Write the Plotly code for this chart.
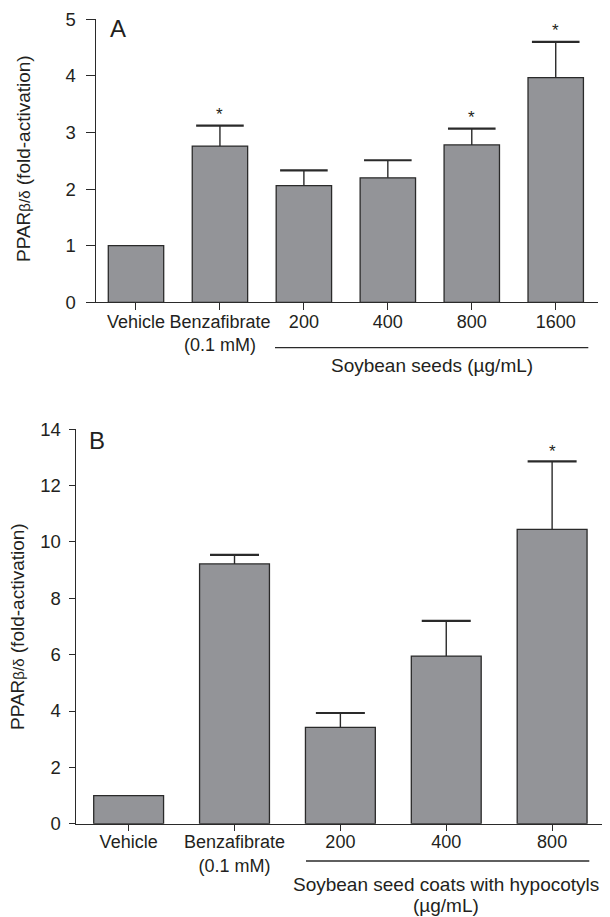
import plotly.graph_objects as go

W, H = 610, 917
OFF = 8  # the page body margin offsets the figure by 8 px

# ---------------- data ----------------
a_categories = ["Vehicle", "Benzafibrate<br>(0.1 mM)", "200", "400", "800", "1600"]
a_values = [1.00, 2.76, 2.06, 2.20, 2.78, 3.97]
a_err_top = [1.00, 3.12, 2.33, 2.51, 3.07, 4.60]
a_signif = [False, True, False, False, True, True]
a_group_label = "Soybean seeds (µg/mL)"

b_categories = ["Vehicle", "Benzafibrate<br>(0.1 mM)", "200", "400", "800"]
b_values = [1.00, 9.22, 3.42, 5.95, 10.45]
b_err_top = [1.00, 9.54, 3.93, 7.20, 12.86]
b_signif = [False, False, False, False, True]
b_group_label = ["Soybean seed coats with hypocotyls", "(µg/mL)"]

y_title = "PPAR<span style='font-size:15px'>β/δ</span> (fold-activation)"

# ---------------- style ----------------
FONT = "Liberation Sans, Arial, Helvetica, sans-serif"
TXT = "#231f20"
AX = "#2a2a2a"
BAR = "#939498"
FS = 19
FX = 18

FW, FH = W - OFF, H - OFF


def px_x(p):
    return (p - OFF) / FW


def px_y(p):
    return 1 - (p - OFF) / FH


fig = go.Figure()


def add_panel(cats, vals, tops, xa, ya, capsize):
    fig.add_trace(go.Bar(
        x=cats, y=vals, xaxis=xa, yaxis=ya, width=0.66,
        marker=dict(color=BAR, line=dict(color=AX, width=1.3)),
        showlegend=False, hoverinfo="skip",
    ))
    # error stems (upper half only) and caps
    sx, sy, cx, cy = [], [], [], []
    for c, v, t in zip(cats, vals, tops):
        if t > v:
            sx += [c, c, None]
            sy += [v, t, None]
            cx.append(c)
            cy.append(t)
    fig.add_trace(go.Scatter(
        x=sx, y=sy, xaxis=xa, yaxis=ya, mode="lines",
        line=dict(color=AX, width=1.4), showlegend=False, hoverinfo="skip",
    ))
    fig.add_trace(go.Scatter(
        x=cx, y=cy, xaxis=xa, yaxis=ya, mode="markers",
        marker=dict(symbol="line-ew", size=capsize, color=AX,
                    line=dict(color=AX, width=2.2)),
        showlegend=False, hoverinfo="skip",
    ))


add_panel(a_categories, a_values, a_err_top, "x", "y", 34)
add_panel(b_categories, b_values, b_err_top, "x2", "y2", 35)

axis_common = dict(showline=True, linecolor=AX, linewidth=1.3, showgrid=False,
                   zeroline=False, ticks="outside", tickcolor=AX, tickwidth=1.3,
                   automargin=False, tickangle=0, fixedrange=True)
xfont = dict(family=FONT, size=FX, color=TXT)
yfont = dict(family=FONT, size=18.5, color=TXT)

fig.update_layout(
    template="none",
    width=FW, height=FH, margin=dict(l=0, r=0, t=0, b=0, pad=0),
    paper_bgcolor="white", plot_bgcolor="white",
    font=dict(family=FONT, color=TXT, size=FS),
    xaxis=dict(domain=[px_x(95.7), px_x(597.7)], anchor="y", type="category",
               range=[-0.48, 5.5], ticklen=7, ticklabelstandoff=-4, tickfont=xfont,
               **axis_common),
    yaxis=dict(domain=[px_y(302.3), px_y(19.3)], anchor="x", range=[0, 5],
               dtick=1, ticklen=9, ticklabelstandoff=6, tickfont=yfont, **axis_common),
    xaxis2=dict(domain=[px_x(75.7), px_x(604)], anchor="y2", type="category",
                range=[-0.5, 4.49], ticklen=6, ticklabelstandoff=-4, tickfont=xfont,
                **axis_common),
    yaxis2=dict(domain=[px_y(823.7), px_y(429.3)], anchor="x2", range=[0, 14],
                dtick=2, ticklen=6, ticklabelstandoff=4, tickfont=yfont, **axis_common),
)

ann = []
# significance stars (positioned by category index on the category axes)
for tops, sig, xr, yr, sh in [(a_err_top, a_signif, "x", "y", 0),
                              (b_err_top, b_signif, "x2", "y2", -2)]:
    for i, (t, s) in enumerate(zip(tops, sig)):
        if s:
            ann.append(dict(x=i, y=t, xref=xr, yref=yr, text="*", showarrow=False,
                            yanchor="bottom", yshift=sh,
                            font=dict(family=FONT, size=17, color=TXT)))

# panel letters
ann.append(dict(x=px_x(108), y=px_y(29), xref="paper", yref="paper", text="A",
                showarrow=False, xanchor="left", yanchor="middle",
                font=dict(family=FONT, size=24, color=TXT)))
ann.append(dict(x=px_x(86.5), y=px_y(440.5), xref="paper", yref="paper", text="B",
                showarrow=False, xanchor="left", yanchor="middle",
                font=dict(family=FONT, size=24, color=TXT)))

# y titles
ann.append(dict(x=px_x(24), y=px_y(159), xref="paper", yref="paper", text=y_title,
                textangle=-90, showarrow=False, xanchor="center", yanchor="middle",
                font=dict(family=FONT, size=FS, color=TXT)))
ann.append(dict(x=px_x(17), y=px_y(627), xref="paper", yref="paper", text=y_title,
                textangle=-90, showarrow=False, xanchor="center", yanchor="middle",
                font=dict(family=FONT, size=FS, color=TXT)))

# group labels
ann.append(dict(x=px_x(431.7), y=px_y(366), xref="paper", yref="paper", text=a_group_label,
                showarrow=False, xanchor="center", yanchor="middle",
                font=dict(family=FONT, size=FS, color=TXT)))
ann.append(dict(x=px_x(445.8), y=px_y(884), xref="paper", yref="paper", text=b_group_label[0],
                showarrow=False, xanchor="center", yanchor="middle",
                font=dict(family=FONT, size=FS, color=TXT)))
ann.append(dict(x=px_x(445.8), y=px_y(905), xref="paper", yref="paper", text=b_group_label[1],
                showarrow=False, xanchor="center", yanchor="middle",
                font=dict(family=FONT, size=FS, color=TXT)))

fig.update_layout(annotations=ann)

fig.update_layout(shapes=[
    dict(type="line", xref="paper", yref="paper", x0=px_x(275), x1=px_x(588.3),
         y0=px_y(347.7), y1=px_y(347.7), line=dict(color=AX, width=1.3)),
    dict(type="line", xref="paper", yref="paper", x0=px_x(306), x1=px_x(589.3),
         y0=px_y(861), y1=px_y(861), line=dict(color=AX, width=1.3)),
])

fig.write_html("out.html")
